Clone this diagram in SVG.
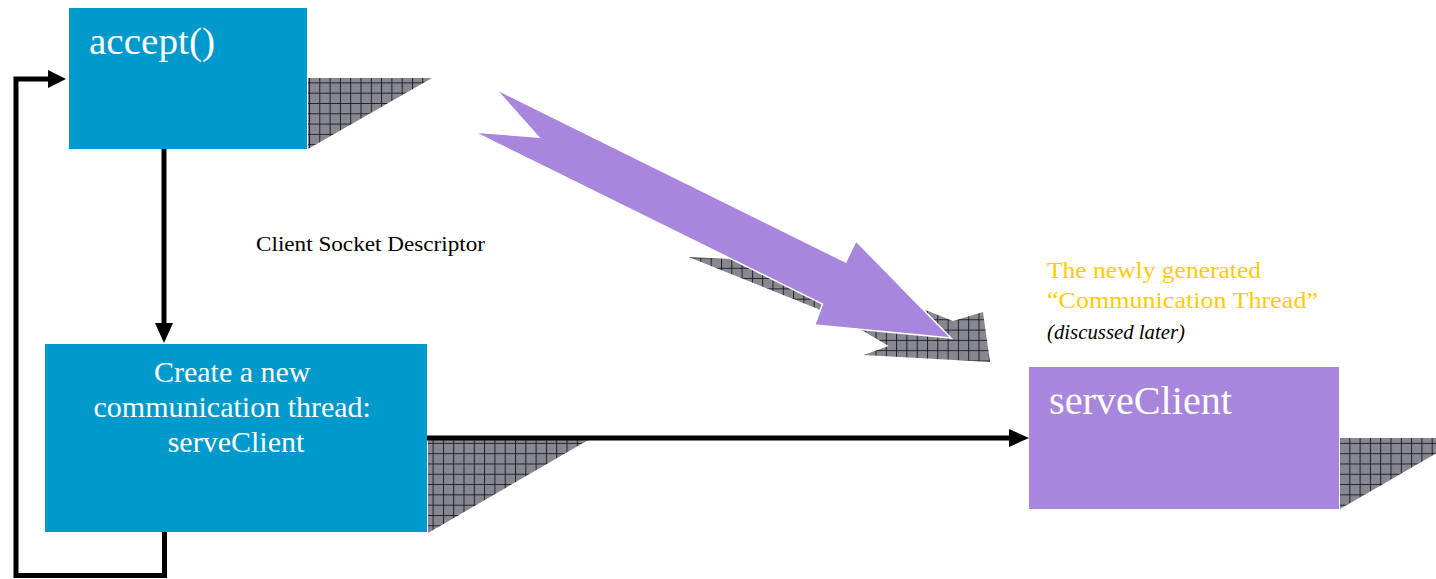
<svg xmlns="http://www.w3.org/2000/svg" width="1436" height="579" viewBox="0 0 1436 579">
  <style>
    .box-blue { fill: #0099CC; }
    .box-purple { fill: #A886DD; }
    .shadow { fill: url(#hatch); }
    .conn { fill: none; stroke: #000; stroke-width: 5; stroke-linejoin: miter; }
    .head { fill: #000; }
    .boxtext { font-family: "Liberation Serif", "DejaVu Serif", serif; fill: #FFFFFF; }
    .label { font-family: "Liberation Serif", "DejaVu Serif", serif; fill: #000; }
    .gold { font-family: "Liberation Serif", "DejaVu Serif", serif; fill: #FFCC00; }
  </style>
  <defs>
    <pattern id="fine" width="2" height="2" patternUnits="userSpaceOnUse">
      <rect width="2" height="2" fill="#9a9aa3"/>
      <rect width="1" height="1" fill="#75757e"/>
      <rect x="1" y="1" width="1" height="1" fill="#75757e"/>
    </pattern>
    <pattern id="hatch" width="10.3" height="10.3" patternUnits="userSpaceOnUse">
      <rect width="10.3" height="10.3" fill="url(#fine)"/>
      <path d="M0 0.5H10.3M0.5 0V10.3" stroke="#1f1f2e" stroke-width="1"/>
    </pattern>
  </defs>

  <!-- shadows -->
  <g id="shadows">
    <polygon class="shadow" points="308,78 432,78 308,149"/>
    <polygon class="shadow" points="428,439 590,439 428,533"/>
    <polygon class="shadow" points="1340,438 1463,438 1340,509"/>
    <polygon class="shadow" points="688.6,257 729.6,259 928,311 953,321 983,312 990,362 863.6,355 888.6,346 865,332 820.7,310"/>
  </g>

  <!-- big purple arrow -->
  <g id="big-arrow">
    <polygon points="495.7,89 845.7,262 856,241 951,338 814.6,325 822.5,304 474,132 538.6,137" fill="#A886DD" stroke="#FFFFFF" stroke-width="1.5" stroke-linejoin="miter"/>
  </g>

  <!-- nodes -->
  <g id="node-accept">
    <rect class="box-blue" x="69" y="8" width="238" height="141"/>
    <text class="boxtext" x="89" y="54" font-size="38" textLength="126" lengthAdjust="spacingAndGlyphs">accept()</text>
  </g>

  <g id="node-create">
    <rect class="box-blue" x="45" y="344" width="382" height="188"/>
    <text class="boxtext" font-size="30" text-anchor="middle">
      <tspan x="236" y="382">Create a new</tspan>
      <tspan x="236" y="417">communication thread:</tspan>
      <tspan x="236" y="452">serveClient</tspan>
    </text>
  </g>

  <g id="node-serveclient">
    <rect class="box-purple" x="1029" y="367" width="310" height="142"/>
    <text class="boxtext" x="1049" y="414" font-size="39" textLength="183" lengthAdjust="spacingAndGlyphs">serveClient</text>
  </g>

  <g id="label-descriptor">
    <text class="label" x="256" y="251" font-size="21" textLength="229" lengthAdjust="spacingAndGlyphs">Client Socket Descriptor</text>
  </g>

  <g id="label-thread">
    <text class="gold" x="1047" y="278" font-size="23" textLength="214" lengthAdjust="spacingAndGlyphs">The newly generated</text>
    <text class="gold" x="1047" y="308" font-size="23" textLength="271" lengthAdjust="spacingAndGlyphs">“Communication Thread”</text>
    <text class="label" x="1047" y="339" font-size="20" font-style="italic" textLength="138" lengthAdjust="spacingAndGlyphs">(discussed later)</text>
  </g>

  <!-- connectors -->
  <g id="connectors">
    <line class="conn" x1="164" y1="149" x2="164" y2="325"/>
    <polygon class="head" points="155,323 173,323 164,343"/>

    <polyline class="conn" points="164.5,532 164.5,575.5 16,575.5 16,79 50,79"/>
    <polygon class="head" points="48,70 48,88 66,79"/>

    <line class="conn" x1="427" y1="438" x2="1011" y2="438"/>
    <polygon class="head" points="1009,429 1009,447 1029,438"/>
  </g>
</svg>
